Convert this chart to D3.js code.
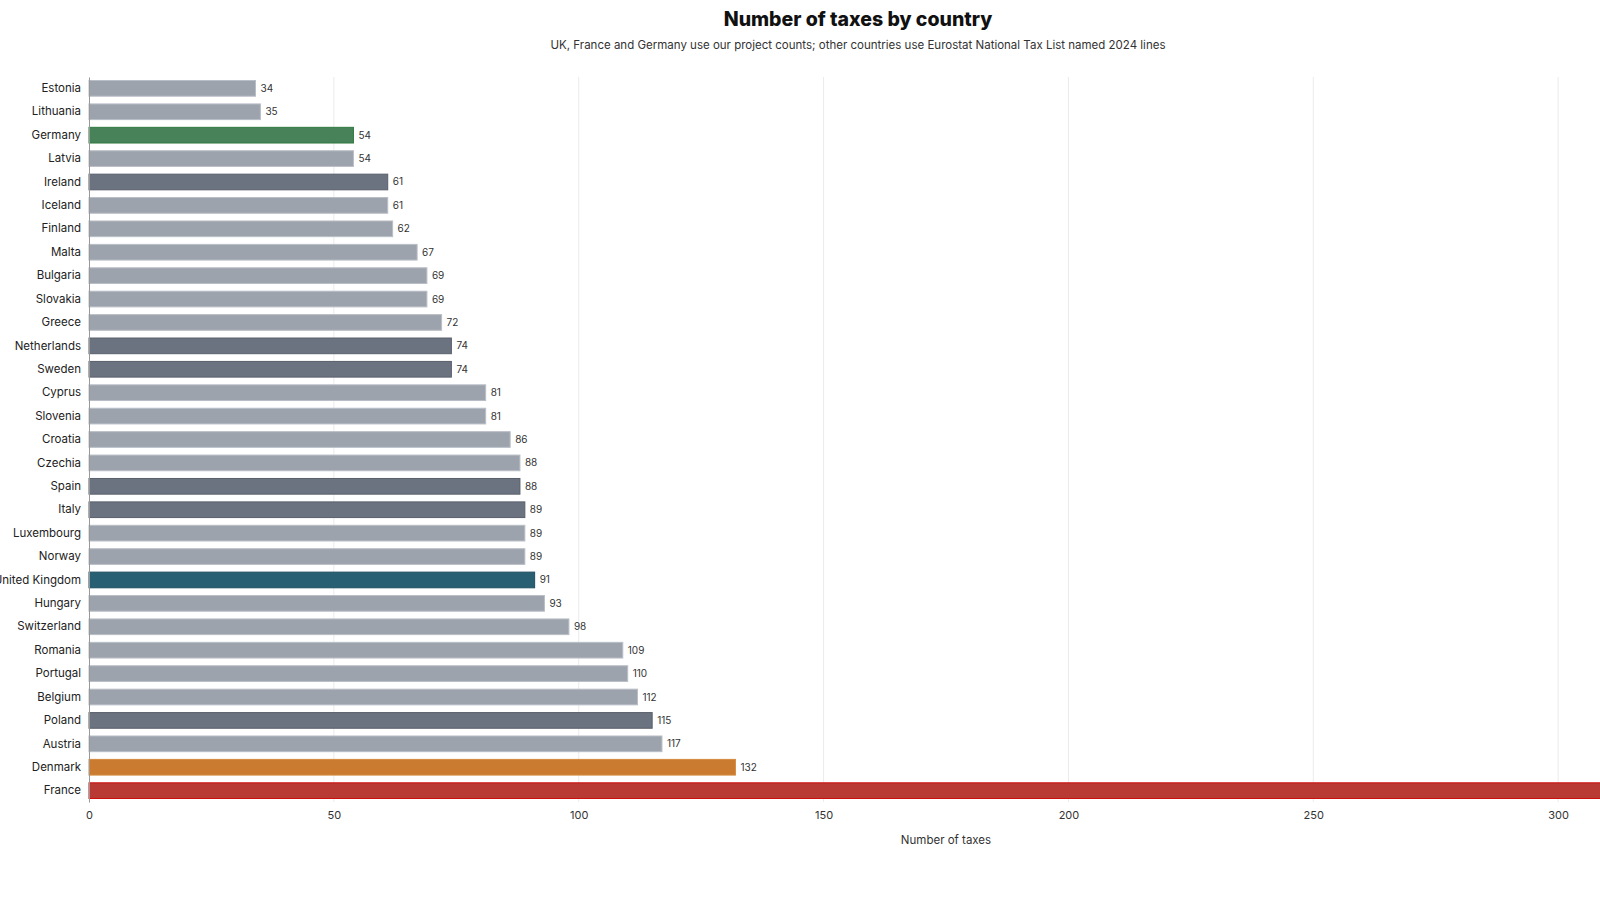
<!DOCTYPE html>
<html>
<head>
<meta charset="utf-8">
<script src="https://cdn.jsdelivr.net/npm/d3@7"></script>
<style>
  body { margin: 0; background: #fff; font-family: Inter, "Open Sans", sans-serif; }
  svg { display: block; }
</style>
</head>
<body>
<div id="chart"></div>
<script>
// data
const countries = ["Estonia", "Lithuania", "Germany", "Latvia", "Ireland", "Iceland", "Finland", "Malta",
  "Bulgaria", "Slovakia", "Greece", "Netherlands", "Sweden", "Cyprus", "Slovenia", "Croatia", "Czechia",
  "Spain", "Italy", "Luxembourg", "Norway", "United Kingdom", "Hungary", "Switzerland", "Romania",
  "Portugal", "Belgium", "Poland", "Austria", "Denmark", "France"]
const taxCounts = [34, 35, 54, 54, 61, 61, 62, 67, 69, 69, 72, 74, 74, 81, 81, 86, 88, 88, 89, 89, 89,
  91, 93, 98, 109, 110, 112, 115, 117, 132, 340]
// colour group of each bar
const groups = ["other", "other", "germany", "other", "dark", "other", "other", "other", "other", "other",
  "other", "dark", "dark", "other", "other", "other", "other", "dark", "dark", "other", "other", "uk",
  "other", "other", "other", "other", "other", "dark", "other", "denmark", "france"]
const xTicks = [0, 50, 100, 150, 200, 250, 300]

const title = "Number of taxes by country"
const subtitle = "UK, France and Germany use our project counts; other countries use Eurostat National Tax List named 2024 lines"

const data = countries.map((c, i) => ({ country: c, value: taxCounts[i], group: groups[i] }))

const fill = {
  other: "#9da3ad", dark: "#6b7280", germany: "#488259", uk: "#285f72",
  denmark: "#cb7b2f", france: "#b93a34"
}
const stroke = {
  other: "#b9bec6", dark: "#5a606b", germany: "#2f7a3f", uk: "#1f4f60",
  denmark: "#d58a40", france: "#cc1010"
}

const width = 1600, height = 900
const margin = {top: 77, left: 89, bottom: 98}
const plotRight = 1803

const svg = d3.select("#chart").append("svg")
  .attr("width", width)
  .attr("height", height)

// title + subtitle
svg.append("text")
  .attr("x", 858).attr("y", 26)
  .attr("text-anchor", "middle")
  .style("font-size", "19.5px").style("font-weight", 800).style("fill", "#111")
  .text(title)
svg.append("text")
  .attr("x", 858).attr("y", 49)
  .attr("text-anchor", "middle")
  .style("font-size", "11.5px").style("fill", "#333")
  .text(subtitle)

const x = d3.scaleLinear()
  .domain([0, d3.max(taxCounts)]).nice()
  .range([margin.left, plotRight])

const y = d3.scaleBand()
  .domain(countries)
  .range([margin.top, height - margin.bottom])
  .paddingInner(0.33)
  .paddingOuter(0.15)

// vertical grid lines
svg.append("g")
  .selectAll("line")
  .data(xTicks.slice(1))
  .join("line")
    .attr("x1", d => x(d)).attr("x2", d => x(d))
    .attr("y1", margin.top).attr("y2", height - margin.bottom)
    .style("stroke", "#ebebeb").style("stroke-width", 1)

// bars
svg.append("g")
  .selectAll("rect")
  .data(data)
  .join("rect")
    .attr("x", x(0))
    .attr("y", d => y(d.country))
    .attr("width", d => x(d.value) - x(0))
    .attr("height", y.bandwidth())
    .style("fill", d => fill[d.group])
    .style("stroke", d => stroke[d.group])
    .style("stroke-width", 1)

// value labels
svg.append("g")
  .selectAll("text")
  .data(data)
  .join("text")
    .attr("x", d => x(d.value) + 5)
    .attr("y", d => y(d.country) + y.bandwidth() / 2)
    .attr("dy", "0.35em")
    .style("font-size", "10px").style("fill", "#333")
    .text(d => d.value)

// Y axis (country names)
const yAxis = svg.append("g")
  .attr("transform", "translate(" + margin.left + ",0)")
  .call(d3.axisLeft(y).tickSize(0).tickPadding(8))
yAxis.select(".domain").style("stroke", "#999")
yAxis.selectAll("text").style("font-size", "11.5px").style("fill", "#222")
  .style("font-family", "Inter, sans-serif")

// X axis (no baseline)
const xAxis = svg.append("g")
  .attr("transform", "translate(0," + (height - margin.bottom) + ")")
  .call(d3.axisBottom(x).tickValues(xTicks).tickSize(0).tickPadding(9))
xAxis.select(".domain").remove()
xAxis.selectAll("text").style("font-size", "11px").style("fill", "#333")
  .style("font-family", "Inter, sans-serif")

// X axis label
svg.append("text")
  .attr("x", (margin.left + plotRight) / 2)
  .attr("y", 844)
  .attr("text-anchor", "middle")
  .style("font-size", "11.5px").style("fill", "#333")
  .text("Number of taxes")
</script>
</body>
</html>
